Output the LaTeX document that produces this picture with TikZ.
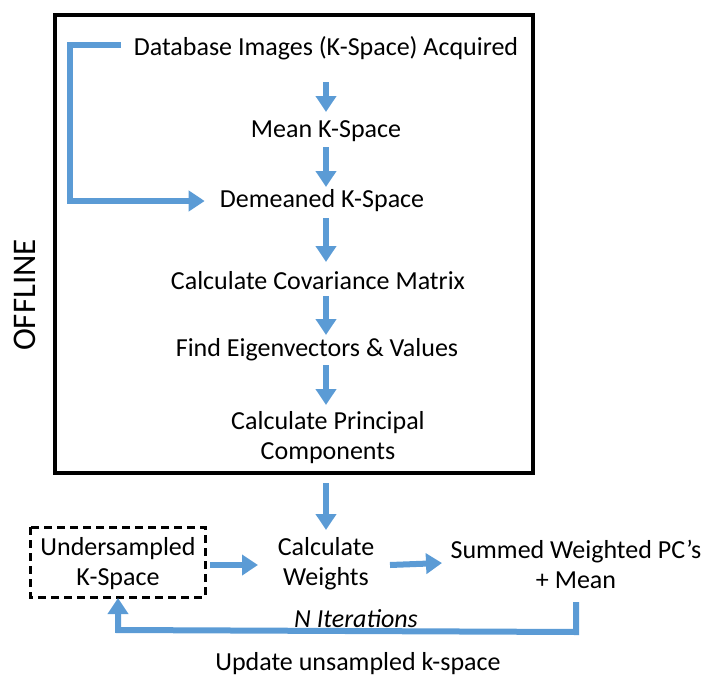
\documentclass[tikz,border=0pt]{standalone}
\usepackage{fontspec}
\setmainfont{Carlito}
\usepackage{tikz}
\usetikzlibrary{calc}
\usetikzlibrary{math}
\usetikzlibrary{arrows.meta}

\begin{document}
\begin{tikzpicture}[x=1pt, y=-1pt]
    \definecolor{blue}{RGB}{91, 155, 213}

    \tikzset{
        step text/.style={font=\fontsize{26}{30}\selectfont, align=center, inner sep=0pt},
        flow/.style={blue, line width=6pt, -{Triangle[width=20pt, length=16pt]}},
        loop/.style={flow, line join=miter},
    }

    \tikzmath {
        \axX = 326;
        \boxL = 55;
        \boxT = 15;
        \boxR = 533;
        \boxB = 473;
    }

    \useasboundingbox (0,0) rectangle (718,686);

    \coordinate (ax) at (\axX, 0);

    % offline part
    \draw[line width=3.5pt] (\boxL, \boxT) rectangle (\boxR, \boxB);
    \node[rotate=90, font=\fontsize{33}{36}\selectfont, inner sep=0pt] (offline) at (25, 295) {OFFLINE};

    \node[step text] (db)     at (326, 48)  {Database Images (K-Space) Acquired};
    \node[step text] (mean)   at (326, 131) {Mean K-Space};
    \node[step text] (demean) at (322, 201) {Demeaned K-Space};
    \node[step text] (cov)    at (318, 281) {Calculate Covariance Matrix};
    \node[step text] (eig)    at (317, 350) {Find Eigenvectors \& Values};
    \node[step text] (pc)     at (328, 438) {Calculate Principal\\Components};

    % online part
    \node[step text] (und) at (118, 564) {Undersampled\\K-Space};
    \draw[line width=3pt, dash pattern=on 8pt off 5pt] (30, 527) rectangle (205, 597);
    \node[step text] (wts) at (326, 564) {Calculate\\Weights};
    \node[step text] (sum) at (576, 564) {Summed Weighted PC’s\\+ Mean};

    \node[step text, font=\fontsize{26}{30}\selectfont\itshape] (iter) at (356, 619) {N Iterations};
    \node[step text] (upd) at (358, 664) {Update unsampled k-space};

    % vertical arrows
    \draw[flow] ($(db.center -| ax) + (0, 34)$) -- ($(mean.center -| ax) + (0, -19)$);
    \draw[flow] ($(mean.center -| ax) + (0, 16)$) -- ($(demean.center -| ax) + (0, -14)$);
    \draw[flow] ($(demean.center -| ax) + (0, 17)$) -- ($(cov.center -| ax) + (0, -19)$);
    \draw[flow] ($(cov.center -| ax) + (0, 15)$) -- ($(eig.center -| ax) + (0, -15)$);
    \draw[flow] ($(eig.center -| ax) + (0, 15)$) -- ($(pc.center -| ax) + (0, -33)$);
    \draw[flow] ($(pc.center -| ax) + (0, 45)$) -- ($(wts.center -| ax) + (0, -34)$);

    % loop from database to demeaned
    \draw[loop] ($(db.west) + (-13, -3)$) -- (70, 45) -- (70, 201) -- ($(demean.west) + (-15, 0)$);

    % horizontal arrows
    \draw[flow] ($(und.center) + (92, 1)$) -- ($(wts.center) + (-68, 1)$);
    \draw[flow] ($(wts.center) + (64, 1)$) -- ($(sum.center) + (-134, -1)$);

    % iteration loop
    \draw[loop] ($(sum.center) + (0, 38)$) -- (576, 632) -- (118, 630) -- ($(und.center) + (0, 34)$);

\end{tikzpicture}
\end{document}
